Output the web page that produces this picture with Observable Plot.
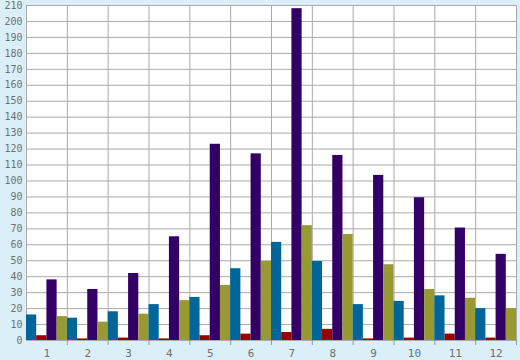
<!DOCTYPE html>
<html>
<head>
<meta charset="utf-8">
<script src="https://cdn.jsdelivr.net/npm/d3@7"></script>
<script src="https://cdn.jsdelivr.net/npm/@observablehq/plot@0.6"></script>
<style>
  html, body { margin: 0; padding: 0; background: #daeff7; }
  #chart { width: 520px; height: 360px; }
</style>
</head>
<body>
<div id="chart"></div>
<script>
const categories = ["1","2","3","4","5","6","7","8","9","10","11","12"];
const seriesNames = ["A","B","C","D"];
const seriesColors = ["#006699","#990000","#330066","#999933"];
const serA = [16, 14, 18, 22.5, 27, 45, 61.5, 49.5, 22.5, 24.5, 28, 20];
const serB = [3, 1, 1.5, 1, 3, 4, 5, 7, 1, 1.5, 4, 1.5];
const serC = [38, 32, 42, 65, 123, 117, 208, 116, 103.5, 89.5, 70.5, 54];
const serD = [15, 11.5, 16.5, 25, 34.5, 49.5, 72, 66.5, 47.5, 32, 26.5, 20];
const yTicks = d3.range(0, 211, 10);

const allSeries = [serA, serB, serC, serD];
const rows = [];
categories.forEach((c, i) => {
  allSeries.forEach((s, k) => {
    rows.push({i, k, series: seriesNames[k], value: s[i]});
  });
});
const n = seriesNames.length;

const chart = Plot.plot({
  width: 520,
  height: 360,
  marginLeft: 26,
  marginRight: 4,
  marginTop: 5,
  marginBottom: 20,
  style: {background: "#daeff7", fontFamily: "'DejaVu Sans Mono', monospace", fontSize: "10px", color: "#707070"},
  x: {type: "linear", domain: [0, categories.length], axis: null},
  y: {domain: [0, 210], axis: null},
  color: {domain: seriesNames, range: seriesColors},
  marks: [
    Plot.frame({fill: "white", stroke: null}),
    Plot.gridY(yTicks, {stroke: "#aaaaaa", strokeOpacity: 1}),
    Plot.gridX(d3.range(0, categories.length + 1), {stroke: "#aaaaaa", strokeOpacity: 1}),
    Plot.rectY(rows, {
      x1: d => d.i + d.k / n,
      x2: d => d.i + (d.k + 1) / n,
      y1: 0,
      y2: "value",
      fill: "series",
      inset: 0
    }),
    Plot.axisY(yTicks, {tickSize: 0, tickPadding: 4, tickFormat: d => d, fill: "#707070", label: null}),
    Plot.axisX(d3.range(1, categories.length + 1), {tickSize: 5, tickFormat: () => "", stroke: "#999999", label: null}),
    Plot.axisX(categories.map((c, i) => i + 0.5), {tickSize: 0, tickPadding: 9, tickFormat: (d, j) => categories[j], fill: "#707070", fontSize: 11, label: null})
  ]
});
document.getElementById("chart").appendChild(chart);
</script>
</body>
</html>
